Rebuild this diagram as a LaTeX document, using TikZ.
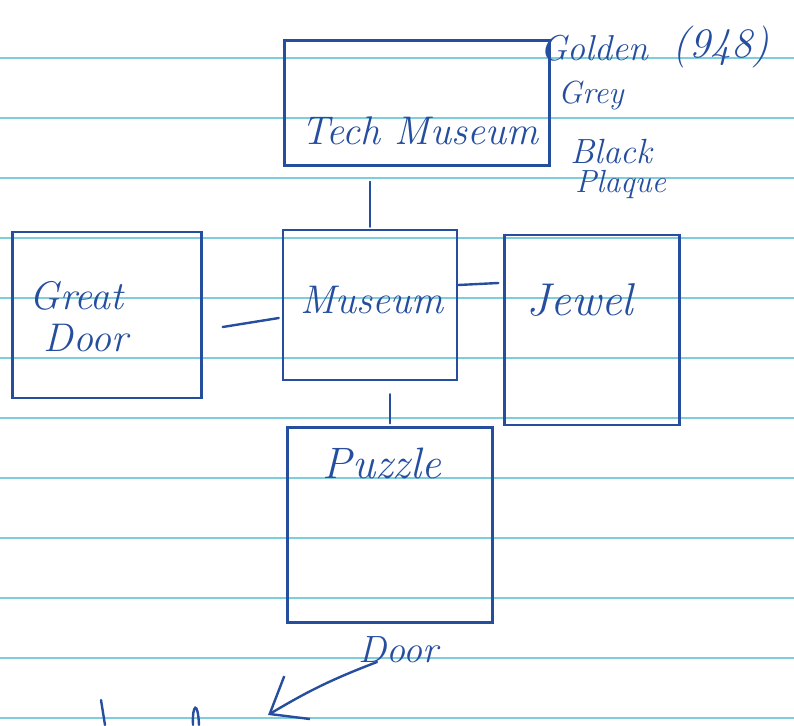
\documentclass[tikz,border=0pt]{standalone}
\usepackage{tikz}
\usetikzlibrary{arrows.meta}

\definecolor{ink}{RGB}{38,78,158}
\definecolor{ruled}{RGB}{125,205,218}

\tikzset{
  room/.style={draw=ink, line width=2.4pt, rectangle, inner sep=0pt},
  link/.style={draw=ink, line width=2.4pt, line cap=round},
  lbl/.style={text=ink, font=\fontsize{40}{42}\selectfont\itshape, align=center},
  note/.style={text=ink, font=\fontsize{32}{34}\selectfont\itshape, inner sep=0pt, anchor=base west}
}

\begin{document}
\begin{tikzpicture}[x=1pt,y=-1pt]
\useasboundingbox (0,0) rectangle (794,725);
% ruled paper
\foreach \y in {58,118,...,718}
  \draw[ruled, line width=1.3pt] (0,\y) -- (794,\y);

% rooms
\node[room, minimum width=265, minimum height=125,
      label={[lbl, xshift=3pt, yshift=-28pt]center:Tech Museum}] (tech) at (417,103) {};
\node[room, minimum width=174, minimum height=150,
      label={[lbl, xshift=2pt, yshift=5pt]center:Museum}] (museum) at (370,305) {};
\node[room, minimum width=189, minimum height=166,
      label={[lbl, align=left, xshift=-28pt, yshift=-2pt]center:Great\\\hspace{14pt}Door}] (gdoor) at (107,315) {};
\node[room, minimum width=175, minimum height=190,
      label={[lbl, font=\fontsize{46}{48}\selectfont\itshape, xshift=-12pt, yshift=30pt]center:Jewel}] (jewel) at (592,330) {};
\node[room, minimum width=205, minimum height=195,
      label={[lbl, font=\fontsize{44}{46}\selectfont\itshape, xshift=-8pt, yshift=62pt]center:Puzzle}] (puzzle) at (390,525) {};

% notes beside the tech museum
\node[note, font=\fontsize{36}{38}\selectfont\itshape] (golden) at (540,60) {Golden};
\node[note, font=\fontsize{42}{44}\selectfont\itshape] (year) at (672,57) {(948)};
\node[note] (grey) at (558,103) {Grey};
\node[note, font=\fontsize{35}{37}\selectfont\itshape] (black) at (570,163) {Black};
\node[note] (plaque) at (575,192) {Plaque};

% exit
\node[note, font=\fontsize{38}{40}\selectfont\itshape] (door) at (358,662) {Door};
\coordinate (exit) at (268,715);

\draw[link, shorten <=15pt, shorten >=2pt] (museum.north |- tech.south) -- (museum.north);
\draw[link, shorten <=13pt, shorten >=3pt] (puzzle.north |- museum.south) -- (puzzle.north);
\draw[link] ([xshift=20pt,yshift=-12pt]gdoor.east) -- ([xshift=-3pt,yshift=-13pt]museum.west);
\draw[link] ([yshift=20pt]museum.east) -- ([xshift=-5pt,yshift=47pt]jewel.west);
\draw[link, -{Straight Barb[length=32pt,width=50pt,line width=2.4pt]}]
  ([xshift=19pt]door.base west) to[bend right=5] (exit);

% cut-off strokes at the bottom edge
\draw[link] (101,700) -- (105,725);
\draw[link] (193,725) .. controls (192,704) and (198,700) .. (199,725);
\end{tikzpicture}
\end{document}
